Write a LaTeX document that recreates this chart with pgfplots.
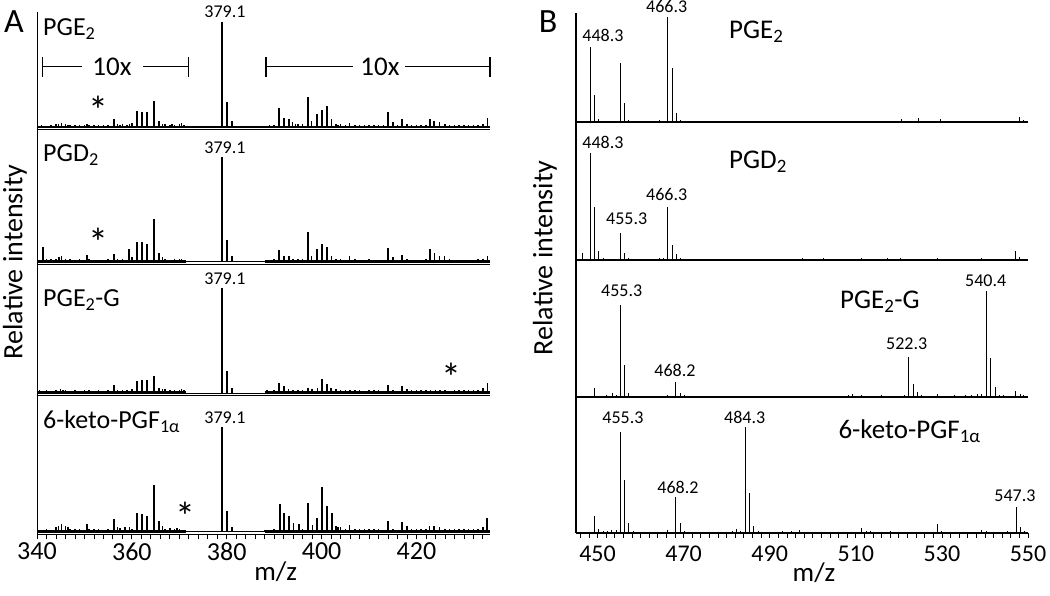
\documentclass[border=0pt]{standalone}
\usepackage{pgfplots}
\pgfplotsset{compat=1.18}
\usepackage{fontspec}
\setmainfont{Carlito}
\newcommand\fs[1]{\fontsize{#1}{#1}\selectfont}
\pgfplotsset{
  specbase/.style={scale only axis, axis x line=bottom, axis y line=left,
    axis line style={-}, ytick=\empty, xtick=\empty, clip=false, anchor=south west,
    /pgf/number format/assume math mode=true},
  specA/.style={specbase, width=453pt, xmin=340, xmax=435.5, ymin=-2.5, axis line style={line width=0.9pt}},
  specB/.style={specbase, width=452pt, xmin=445, xmax=550, ymin=0, axis line style={line width=1.6pt}},
  pkA/.style={ycomb, black, line width=2pt},
  nzA/.style={ycomb, black, line width=1.5pt},
  pkB/.style={ycomb, black, line width=1pt},
  tk/.style={tick align=outside, major tick length=5pt, minor tick length=5pt,
    tick style={line width=0.8pt, black}},
}
\begin{document}
\begin{tikzpicture}[x=1pt,y=1pt]
\useasboundingbox (0,0) rectangle (1050,595);

% ---------------- Panel A ----------------
% A1 PGE2
\begin{axis}[specA, at={(37pt,465.4pt)}, height=117.6pt, ymax=109.5]
\addplot[black, line width=2.4pt] coordinates {(340,0) (371.5,0)};
\addplot[black, line width=1.2pt] coordinates {(371.5,0) (388,0)};
\addplot[black, line width=2.4pt] coordinates {(388,0) (435.5,0)};
\addplot[nzA] coordinates {(340.5,1) (341,1.5) (342,1) (343,1.5) (344,2.5) (344.5,3) (345.2,3.5) (346,2.5) (346.5,2) (347,1.5) (348,2) (349,1.5) (350,2) (350.5,3) (351,2) (352,1.5) (353,1.5) (354,1.5) (355,2) (357,3) (357.5,2) (358,2.5) (359,2) (359.5,3) (360,4) (365.7,6) (366.5,3) (367,2.5) (368,2) (368.5,2.5) (369,2) (370,3) (370.5,4) (371,2)
 (388.5,1) (389,1.5) (390,2) (393.9,5) (394.5,3) (395,2.5) (396,3) (397.9,6) (402.1,8) (403,3) (403.5,2) (404,2.5) (405,2) (405.9,4) (407,2) (408,1.5) (409,2) (410,1.5) (411,2) (412,1.5) (413,2) (415,5) (416,2) (416.9,8) (418,3) (419,2) (420,1.5) (421,2) (422,2) (422.8,8) (423.7,6) (424.9,5) (426,3) (427,2) (428,2) (429,1.5) (430,2) (431,1.5) (432,2) (433,2) (434,3) (435,9)};
\addplot[pkA] coordinates {(356.2,8) (361.1,15) (362.2,14) (363.1,14) (364.6,25) (379.1,100) (380.1,24) (381.1,6) (391.1,18) (392.1,9) (393.1,8) (397.1,29) (399.1,12) (400.1,16) (401.1,20) (413.9,14)};
\end{axis}

% A2 PGD2
\begin{axis}[specA, at={(37pt,330.7pt)}, height=134.7pt, ymax=125.8]
\addplot[black, line width=2.4pt] coordinates {(340,0) (371.5,0)};
\addplot[black, line width=1.2pt] coordinates {(371.5,0) (388,0)};
\addplot[black, line width=2.4pt] coordinates {(388,0) (435.5,0)};
\addplot[nzA] coordinates {(340.5,2) (342,3) (343,2.5) (344,3) (344.6,4) (345.2,5) (346,3) (347,2.5) (348,2) (349,2.5) (350.5,6) (351,3) (352,2) (353,2) (354,2) (355,2.5) (357,3) (358,2.5) (360,4) (365.7,8) (366.5,4) (367,3) (368,2) (369,3) (370,3) (370.5,3) (371,2)
 (388.5,1.5) (389.5,2) (390,2.5) (392.1,5) (393.1,5) (394,3) (395,3) (396,3) (397.9,5) (402.1,5) (403,3) (404,2.5) (405.9,5) (407,2.5) (408,2) (409,2) (410,2.5) (411,2) (412,2) (415,4) (416.9,6) (418,2.5) (419,2) (420,2) (421,2) (422,3) (423.8,8) (424.9,5) (425.9,5) (427,3) (428,2) (429,2) (430,2) (431,2) (432,2) (433,2.5) (434,3) (435,5)};
\addplot[pkA] coordinates {(341.3,14) (356.2,7) (359.4,12) (361.1,19) (362.2,19) (363.1,17) (364.6,41) (379.1,100) (380.1,21) (381.1,5) (391.1,11) (397.1,28) (399.1,12) (400.1,17) (401.1,14) (413.9,13) (422.9,12)};
\end{axis}

% A3 PGE2-G
\begin{axis}[specA, at={(37pt,199.1pt)}, height=131.6pt, ymax=122.9]
\addplot[black, line width=2.8pt] coordinates {(340,0.5) (371.5,0.5)};
\addplot[black, line width=1.2pt] coordinates {(371.5,0) (388,0)};
\addplot[black, line width=2.8pt] coordinates {(388,0.5) (435.5,0.5)};
\addplot[nzA] coordinates {(340.5,3) (341,2.5) (342,3) (343,2.5) (344,3) (345,4) (345.5,3) (346,3) (347,2.5) (348,3) (349,2.5) (350,3) (351,3) (352,2.5) (353,3) (354,2.5) (355,3) (357,3) (358,3) (359,3) (360,4) (365.7,5) (366.5,4) (367,4) (368,3.5) (369,3) (370,3) (370.5,4) (371,3)
 (388.5,3) (389,2.5) (390,3) (392.1,7) (393,4) (394,3) (395,3.5) (396,3) (397.1,5) (398,4) (399.1,5) (402,5) (403,4) (404,3.5) (405,3) (406,3) (407,3) (408,3) (409,2.5) (410,3) (411,3) (412,3) (415,3) (416.9,7) (418,4) (419,3.5) (420,3) (421,3) (422,3) (423,3) (424,3) (425,3) (426,3) (427,2.5) (428,3) (429,3) (430,3) (431,3) (432,3.5) (433,3) (434,5) (435,10)};
\addplot[pkA] coordinates {(356.2,8) (361.1,12) (362.2,13) (363.1,13) (364.6,16) (379.1,100) (380.1,21) (381.1,5) (391.1,10) (400.1,14) (401.1,9) (413.9,8)};
\end{axis}

% A4 6-keto-PGF1a
\begin{axis}[specA, tk, at={(37pt,60.7pt)}, height=138.4pt, ymax=129.3,
  xtick={340,360,380,400,420}, minor xtick={342,344,...,434},
  xticklabel style={font=\fs{26}}]
\addplot[black, line width=2.4pt] coordinates {(340,0) (371.5,0)};
\addplot[black, line width=1.2pt] coordinates {(371.5,0) (388,0)};
\addplot[black, line width=2.4pt] coordinates {(388,0) (435.5,0)};
\addplot[nzA] coordinates {(340.5,2) (341,2) (342,2.5) (343,2) (344,4) (344.5,5) (345.2,7) (346,5) (346.5,4) (347,3) (348,3) (349,2.5) (350.5,7) (351,3) (352,2.5) (353,2.5) (354,2) (355,2.5) (357,4) (357.5,3.5) (358.5,4) (359.5,4) (360,3) (365.7,10) (366.5,5) (367,3) (368,3.5) (369,3) (369.5,3.5) (370,3) (371,2)
 (388,1.5) (389,2) (390,3) (394.1,8) (395.2,7) (396,3) (398.1,6) (403,5) (403.5,4) (404,4) (405,3) (405.9,6) (407,3) (408,3) (409,2.5) (410,3) (411,2.5) (412,2.5) (415,3) (418,5) (419,3) (420,3) (421,3) (422,3) (422.7,5) (423.7,5) (424.9,4) (426,3) (427,3) (428,3) (429,3) (430,2.5) (431,3) (432,2.5) (433,3) (434,4)};
\addplot[pkA] coordinates {(356.2,12) (361.1,18) (362.2,17) (363.1,15) (364.6,44) (379.1,100) (380.1,20) (381.1,4) (391.2,26) (392.1,18) (393.1,15) (397.1,27) (399.1,12.6) (400.1,43) (401.1,24) (402.1,18) (414,10) (416.9,9) (434.8,13)};
\end{axis}

% ---------------- Panel B ----------------
\begin{axis}[specB, at={(576pt,473pt)}, height=109pt, ymax=103.8]
\addplot[pkB] coordinates {(448.3,71) (449.3,26) (450.3,3) (455.3,56) (456.3,18) (457.3,1.5) (464.3,1.5) (466.3,100) (467.3,51) (468.3,9) (469.3,1.5) (520.7,3) (524.5,4) (529.7,3) (548.1,5) (549,2)};
\end{axis}

\begin{axis}[specB, at={(576pt,335pt)}, height=138pt, ymax=129]
\addplot[pkB] coordinates {(446.4,6.5) (448.3,100) (449.3,50) (450.3,8) (451.3,1.5) (455.3,25) (456.3,6.5) (457.3,1.5) (464.3,2) (465.3,1.5) (466.3,50) (467.3,14) (468.3,5.6) (469.3,2) (470.3,1) (497.5,2) (502.5,2) (511.4,2) (517.3,2) (520.3,2) (529,2) (539.3,2) (547.2,8.5) (548.1,3)};
\end{axis}

\begin{axis}[specB, at={(576pt,198pt)}, height=137pt, ymax=129.2]
\addplot[pkB] coordinates {(449.3,8.5) (452.2,2) (453.4,4) (454.3,2) (455.3,87) (456.3,30) (457.3,4) (459,1) (466.3,1.5) (468.2,14) (469.2,4) (470.2,1.5) (477,1) (498,1) (508.3,2) (509.3,2.5) (511.4,2) (516,1.5) (521.3,2) (522.3,38) (523.3,12) (524.3,5) (525.3,2) (528.9,3) (533,1.5) (535.5,2) (536.9,2) (538.3,2.5) (539.3,3) (540.4,100) (541.4,37) (542.4,9) (543.4,2) (544.4,1.5) (547.2,6) (548.2,3) (549,2)};
\end{axis}

\begin{axis}[specB, tk, at={(576pt,62pt)}, height=136pt, ymax=128.3,
  xtick={450,470,490,510,530,550}, minor xtick={446,448,...,548},
  xticklabel style={font=\fs{24}, yshift=-4pt}]
\addplot[pkB] coordinates {(449.3,16) (450.3,4) (451.3,2) (452.3,2) (453.3,3) (454.3,3) (455.3,95) (456.3,50) (457.3,9) (458.3,2) (460,1) (466.2,3) (468.2,34) (469.2,9) (470.2,2) (481.3,2) (482.3,4) (483.3,2) (484.3,100) (485.3,38) (486.3,7) (487.3,1.5) (493,1.5) (495,1.5) (497,3) (511.4,5) (512.4,2) (513.4,2) (518,2) (529,8.5) (530,1.5) (539.3,3) (540.3,1.5) (545.2,2) (547.3,25) (548.3,6) (549.3,1.5)};
\end{axis}

% ---------------- Text ----------------
\node[font=\fs{34}] at (14,573) {A};
\node[font=\fs{34}] at (548,573) {B};
\node[font=\fs{28}, rotate=90] at (15,333) {Relative intensity};
\node[font=\fs{28}, rotate=90] at (545,337) {Relative intensity};
\node[font=\fs{27}] at (275.7,23) {m/z};
\node[font=\fs{27}] at (814,22) {m/z};

% A labels
\node[font=\fs{26}, anchor=base west, inner sep=0pt] at (43,559) {PGE\textsubscript{2}};
\node[font=\fs{26}, anchor=base west, inner sep=0pt] at (43,433.3) {PGD\textsubscript{2}};
\node[font=\fs{26}, anchor=base west, inner sep=0pt] at (43,288.3) {PGE\textsubscript{2}-G};
\node[font=\fs{26}, anchor=base west, inner sep=0pt] at (43,166) {6-keto-PGF\textsubscript{1α}};
\foreach \yy in {577.7,441,310,171.7} {\node[font=\fs{18}, anchor=base, inner sep=0pt] at (225,\yy) {379.1};}

% 10x brackets
\draw[line width=1.4pt] (42.7,528.3) -- (81.7,528.3) (143.3,528.3) -- (188.3,528.3)
  (42.7,518.3) -- (42.7,538.3) (188.3,518.3) -- (188.3,538.3);
\draw[line width=1.4pt] (266,528.3) -- (353.3,528.3) (405,528.3) -- (490,528.3)
  (266,518.3) -- (266,538.3) (490,518.3) -- (490,538.3);
\node[font=\fs{27}] at (112,528.3) {10x};
\node[font=\fs{27}] at (380,528.3) {10x};

% asterisks
\node[font=\fs{40}, anchor=base, inner sep=0pt] at (98.3,470) {*};
\node[font=\fs{40}, anchor=base, inner sep=0pt] at (98.3,338.5) {*};
\node[font=\fs{40}, anchor=base, inner sep=0pt] at (451.7,203.5) {*};
\node[font=\fs{40}, anchor=base, inner sep=0pt] at (185,65) {*};

% B labels
\node[font=\fs{27}, anchor=base west, inner sep=0pt] at (729,556.7) {PGE\textsubscript{2}};
\node[font=\fs{27}, anchor=base west, inner sep=0pt] at (729,426.7) {PGD\textsubscript{2}};
\node[font=\fs{27}, anchor=base west, inner sep=0pt] at (840,286.7) {PGE\textsubscript{2}-G};
\node[font=\fs{27}, anchor=base west, inner sep=0pt] at (838.3,156.7) {6-keto-PGF\textsubscript{1α}};

\begin{scope}[every node/.style={font=\fs{18}, anchor=base, inner sep=0pt}]
\node at (603,553.3) {448.3};
\node at (666.7,582) {466.3};
\node at (603,446.7) {448.3};
\node at (626.7,370) {455.3};
\node at (666.7,394.3) {466.3};
\node at (621.7,298.3) {455.3};
\node at (675,218.3) {468.2};
\node at (906.7,245.7) {522.3};
\node at (985.7,308.3) {540.4};
\node at (623,171.7) {455.3};
\node at (744.7,171.7) {484.3};
\node at (678,101.7) {468.2};
\node at (1015,93.3) {547.3};
\end{scope}
\end{tikzpicture}
\end{document}
